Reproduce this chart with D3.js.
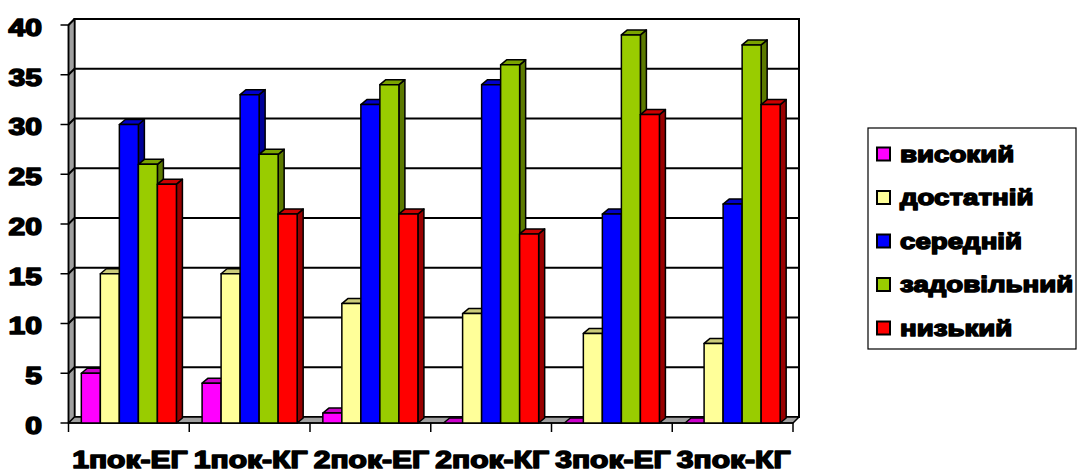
<!DOCTYPE html>
<html>
<head>
<meta charset="utf-8">
<script src="https://cdn.jsdelivr.net/npm/d3@7"></script>
<style>
  html, body { margin: 0; padding: 0; background: #fff; }
  svg { display: block; }
  text { font-family: "Liberation Sans", Arial, sans-serif; font-weight: bold; fill: #000;
         stroke: #000; stroke-width: 1.5px; paint-order: stroke; stroke-linejoin: round; }
</style>
</head>
<body>
<svg id="chart" width="1077" height="473"></svg>
<script>
// Categories (test stage / group)
const categories = ['1пок-ЕГ', '1пок-КГ', '2пок-ЕГ', '2пок-КГ', '3пок-ЕГ', '3пок-КГ'];
// Series names (levels)
const seriesNames = ['високий', 'достатній', 'середній', 'задовільний', 'низький'];
// Series values per category
const vysokyi     = [5, 4, 1, 0, 0, 0];
const dostatnii   = [15, 15, 12, 11, 9, 8];
const serednii    = [30, 33, 32, 34, 21, 22];
const zadovilnyi  = [26, 27, 34, 36, 39, 38];
const nyzkyi      = [24, 21, 21, 19, 31, 32];
// Value axis ticks
const yTicks = [0, 5, 10, 15, 20, 25, 30, 35, 40];

const seriesValues = [vysokyi, dostatnii, serednii, zadovilnyi, nyzkyi];
const frontColors = ['#FF00FF', '#FFFF99', '#0000FF', '#99CC00', '#FF0000'];
const topColors   = ['#CC00CC', '#CCCC7A', '#0000CC', '#7AA300', '#CC0000'];
const sideColors  = ['#990099', '#99995C', '#000099', '#5C7A00', '#990000'];

const svg = d3.select('#chart');
const AXIS_FONT = 23.5, AXIS_STRETCH = 1.28;  // axis lettering
const LEG_FONT = 22.5, LEG_STRETCH = 1.23;    // legend lettering
const WALL = {dx: 6, dy: -6};  // depth of walls/floor
const BAR = {dx: 6, dy: -5};   // depth of the columns

const x0 = d3.scaleBand().domain(categories).range([68.5, 793]).paddingInner(0).paddingOuter(0);
const x1 = d3.scaleBand().domain(seriesNames).range([0, x0.bandwidth()]).paddingInner(0).paddingOuter(0.675);
const y = d3.scaleLinear().domain([0, 40]).range([423, 25]);

const xL = x0.range()[0], xR = x0.range()[1];
const y0 = y(0), yTop = y(40);
const pts = a => a.map(p => p.join(',')).join(' ');

// Back wall
svg.append('rect')
  .attr('x', xL + WALL.dx).attr('y', yTop + WALL.dy)
  .attr('width', xR - xL).attr('height', y0 - yTop)
  .attr('fill', '#fff').attr('stroke', '#000').attr('stroke-width', 2);

// Left side wall
svg.append('polygon')
  .attr('points', pts([[xL, y0], [xL, yTop], [xL + WALL.dx, yTop + WALL.dy], [xL + WALL.dx, y0 + WALL.dy]]))
  .attr('fill', '#A0A0A0').attr('stroke', '#000').attr('stroke-width', 1.5).attr('stroke-linejoin', 'round');

// Floor
svg.append('polygon')
  .attr('points', pts([[xL, y0], [xR, y0], [xR + WALL.dx, y0 + WALL.dy], [xL + WALL.dx, y0 + WALL.dy]]))
  .attr('fill', '#A0A0A0').attr('stroke', '#000').attr('stroke-width', 1.5).attr('stroke-linejoin', 'round');

// Gridlines across side wall and back wall
const grid = svg.append('g');
yTicks.filter(t => t > 0).forEach(t => {
  grid.append('polyline')
    .attr('points', pts([[xL, y(t)], [xL + WALL.dx, y(t) + WALL.dy], [xR + WALL.dx, y(t) + WALL.dy]]))
    .attr('fill', 'none').attr('stroke', '#000').attr('stroke-width', 2);
});

// Value axis
const yAxisG = svg.append('g');
yAxisG.append('line').attr('x1', xL).attr('x2', xL).attr('y1', yTop).attr('y2', y0)
  .attr('stroke', '#000').attr('stroke-width', 1.5);
yTicks.forEach(t => {
  yAxisG.append('line').attr('x1', xL - 8).attr('x2', xL).attr('y1', y(t)).attr('y2', y(t))
    .attr('stroke', '#000').attr('stroke-width', 1.5);
  yAxisG.append('text')
    .attr('transform', `translate(42,${y(t) + 10.8}) scale(${AXIS_STRETCH},1)`)
    .attr('text-anchor', 'end').attr('font-size', AXIS_FONT)
    .text(t);
});

// Category axis
const xAxisG = svg.append('g');
xAxisG.append('line').attr('x1', xL).attr('x2', xR).attr('y1', y0).attr('y2', y0)
  .attr('stroke', '#000').attr('stroke-width', 1.5);
categories.concat(['end']).forEach((c, i) => {
  const xx = i < categories.length ? x0(c) : xR;
  xAxisG.append('line').attr('x1', xx).attr('x2', xx).attr('y1', y0).attr('y2', y0 + 9)
    .attr('stroke', '#000').attr('stroke-width', 1.5);
});
categories.forEach(c => {
  xAxisG.append('text')
    .attr('transform', `translate(${x0(c) + x0.bandwidth() / 2 + 1},467.5) scale(${AXIS_STRETCH},1)`)
    .attr('text-anchor', 'middle').attr('font-size', AXIS_FONT)
    .text(c);
});

// 3D columns
const bars = svg.append('g');
categories.forEach((c, ci) => {
  seriesNames.forEach((s, si) => {
    const v = seriesValues[si][ci];
    const xa = x0(c) + x1(s), xb = xa + x1.bandwidth();
    const yt = y(v), yb = y(0);
    const g = bars.append('g').attr('stroke', '#000').attr('stroke-width', 1.5).attr('stroke-linejoin', 'round');
    // side face
    if (v > 0) {
      g.append('polygon')
        .attr('points', pts([[xb, yb], [xb, yt], [xb + BAR.dx, yt + BAR.dy], [xb + BAR.dx, yb + BAR.dy]]))
        .attr('fill', sideColors[si]);
    }
    // top face
    g.append('polygon')
      .attr('points', pts([[xa, yt], [xb, yt], [xb + BAR.dx, yt + BAR.dy], [xa + BAR.dx, yt + BAR.dy]]))
      .attr('fill', topColors[si]);
    // front face
    if (v > 0) {
      g.append('rect')
        .attr('x', xa).attr('y', yt).attr('width', xb - xa).attr('height', yb - yt)
        .attr('fill', frontColors[si]);
    }
  });
});

// Legend
const legend = svg.append('g');
legend.append('rect').attr('x', 868).attr('y', 128).attr('width', 208).attr('height', 221)
  .attr('fill', '#fff').attr('stroke', '#000').attr('stroke-width', 1.2);
const ly = d3.scalePoint().domain(seriesNames).range([154, 328]);
seriesNames.forEach((s, si) => {
  legend.append('rect')
    .attr('x', 877).attr('y', ly(s) - 6.5).attr('width', 13).attr('height', 13)
    .attr('fill', frontColors[si]).attr('stroke', '#000').attr('stroke-width', 2);
  legend.append('text')
    .attr('transform', `translate(900,${ly(s) + 7.5}) scale(${LEG_STRETCH},1)`)
    .attr('font-size', LEG_FONT)
    .text(s);
});
</script>
</body>
</html>
